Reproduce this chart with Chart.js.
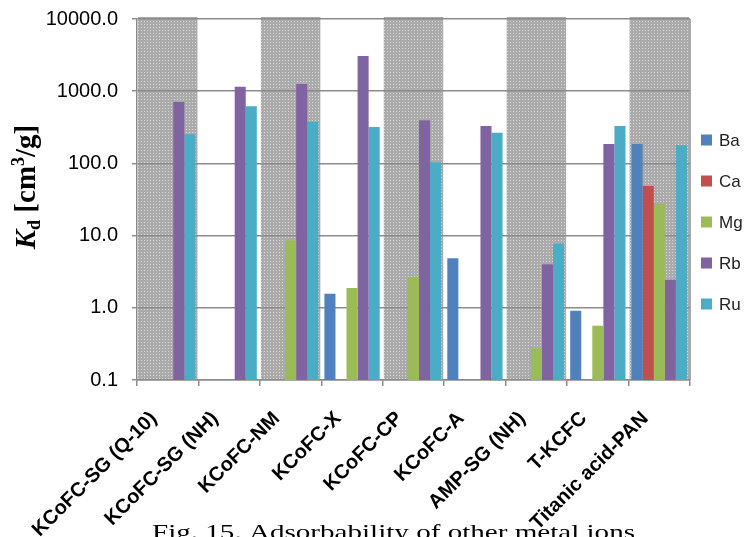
<!DOCTYPE html>
<html>
<head>
<meta charset="utf-8">
<script src="https://cdn.jsdelivr.net/npm/chart.js@4.4.1/dist/chart.umd.min.js"></script>
<style>
  body { margin: 0; background: #fff; }
  #kd_chart { display: block; }
</style>
</head>
<body>
<canvas id="kd_chart" width="748" height="537"></canvas>
<script>
// adsorbent names (x axis)
const categories = ['KCoFC-SG (Q-10)', 'KCoFC-SG (NH)', 'KCoFC-NM', 'KCoFC-X', 'KCoFC-CP',
    'KCoFC-A', 'AMP-SG (NH)', 'T-KCFC', 'Titanic acid-PAN'];
const ions = ['Ba', 'Ca', 'Mg', 'Rb', 'Ru'];

// Kd [cm3/g], null = no bar
const ba = [null, null, null, 1.57, null, 4.84, null, 0.91, 186];
const ca = [null, null, null, null, null, null, null, null, 48.6];
const mg = [null, null, 8.6, 1.88, 2.67, null, 0.275, 0.565, 27.4];
const rb = [708, 1153, 1259, 3074, 395, 330, 4.0, 186, 2.45];
const ru = [253, 618, 378, 319, 103.5, 266, 7.8, 330, 178];

const yTicks = [0.1, 1, 10, 100, 1000, 10000];
const colors = ['#4F81BD', '#C0504D', '#9BBB59', '#8064A2', '#4BACC6'];

const ctx = document.getElementById('kd_chart');

// dotted gray fill for every other column
function makePattern() {
    const c = document.createElement('canvas');
    c.width = 3; c.height = 3;
    const g = c.getContext('2d');
    g.fillStyle = '#ababab';
    g.fillRect(0, 0, 3, 3);
    g.fillStyle = '#d4d4d4';
    g.fillRect(0, 0, 1, 1);
    return g.createPattern(c, 'repeat');
}

const bgPlugin = {
    id: 'bands',
    beforeDraw(chart) {
        const c = chart.ctx;
        const x = chart.scales.x;
        const area = chart.chartArea;
        const w = (area.right - area.left) / categories.length;
        c.save();
        c.fillStyle = makePattern();
        categories.forEach((name, i) => {
            if (i % 2 == 0) {
                const cx = x.getPixelForValue(i);
                c.fillRect(cx - w / 2 + 1, area.top - 2, w - 2, area.bottom - area.top + 2);
            }
        });
        // caption under the chart (cut by the canvas edge)
        c.font = '22px "Liberation Serif"';
        c.fillStyle = '#000';
        c.textBaseline = 'alphabetic';
        const text = 'Fig. 15. Adsorbability of other metal ions';
        const sx = 483 / c.measureText(text).width;
        c.translate(152, 539);
        c.scale(sx, 1);
        c.fillText(text, 0, 0);
        c.restore();
    },
    afterDatasetsDraw(chart) {
        const c = chart.ctx;
        const area = chart.chartArea;
        c.save();
        c.strokeStyle = '#8c8c8c';
        c.lineWidth = 1.5;
        c.beginPath();
        c.moveTo(area.right, area.top);
        c.lineTo(area.right, area.bottom);
        c.stroke();
        c.restore();
    },
    afterDraw(chart) {
        const c = chart.ctx;
        c.save();
        // legend
        c.font = '17px "Liberation Sans"';
        c.textBaseline = 'middle';
        chart.data.datasets.forEach((ds, i) => {
            const y = 140 + i * 41;
            c.fillStyle = ds.backgroundColor;
            c.fillRect(701, y - 5.5, 11, 11);
            c.fillStyle = '#222';
            c.fillText(ds.label, 719, y + 1);
        });
        // y axis title  K_d [cm^3/g]
        const big = 'bold 29px "Liberation Serif"';
        const small = 'bold 18px "Liberation Serif"';
        const segs = [
            { t: 'K', f: 'italic ' + big, dy: 0 },
            { t: 'd', f: small, dy: 5 },
            { t: ' [cm', f: big, dy: 0 },
            { t: '3', f: small, dy: -11 },
            { t: '/g]', f: big, dy: 0 },
        ];
        let total = 0;
        segs.forEach(s => { c.font = s.f; s.w = c.measureText(s.t).width; total += s.w; });
        c.translate(35, 187);
        c.rotate(-Math.PI / 2);
        c.fillStyle = '#000';
        c.textBaseline = 'alphabetic';
        let px = -total / 2;
        segs.forEach(s => {
            c.font = s.f;
            c.fillText(s.t, px, s.dy);
            px += s.w;
        });
        c.restore();
    }
};

const datasets = [ba, ca, mg, rb, ru].map((vals, i) => ({
    label: ions[i],
    data: vals,
    backgroundColor: colors[i],
    borderWidth: 0,
    categoryPercentage: 0.9,
    barPercentage: 1.0
}));

let chart = new Chart(ctx, {
    type: 'bar',
    data: {
        labels: categories,
        datasets: datasets
    },
    plugins: [bgPlugin],
    options: {
        responsive: false,
        animation: false,
        layout: {
            padding: { top: 19, right: 58, left: 0, bottom: 0 }
        },
        plugins: {
            legend: { display: false },
            tooltip: { enabled: false }
        },
        scales: {
            x: {
                grid: {
                    offset: true,
                    drawOnChartArea: false,
                    color: '#8c8c8c',
                    lineWidth: 1.5,
                    tickLength: 6
                },
                border: { color: '#8c8c8c', width: 1.5 },
                ticks: {
                    autoSkip: false,
                    maxRotation: 45,
                    minRotation: 45,
                    labelOffset: -14,
                    padding: 21,
                    color: '#000',
                    font: { family: '"Liberation Sans"', size: 20, weight: 'bold' }
                },
                afterFit(scale) {
                    scale.height = 537 - 380;
                    scale.paddingLeft = 0;
                    scale.paddingRight = 0;
                }
            },
            y: {
                type: 'logarithmic',
                min: 0.1,
                max: 10000,
                grid: {
                    color: '#8c8c8c',
                    lineWidth: 1.5,
                    tickLength: 5
                },
                border: { color: '#8c8c8c', width: 1.5 },
                afterBuildTicks(scale) {
                    scale.ticks = yTicks.map(v => ({ value: v }));
                },
                ticks: {
                    padding: 14,
                    color: '#000',
                    font: { family: '"Liberation Sans"', size: 20 },
                    callback: (v) => v < 1 ? String(v) : Number(v).toFixed(1)
                },
                afterFit(scale) {
                    scale.width = 137;
                    scale.paddingTop = 0;
                    scale.paddingBottom = 0;
                }
            }
        }
    }
});
</script>
</body>
</html>
